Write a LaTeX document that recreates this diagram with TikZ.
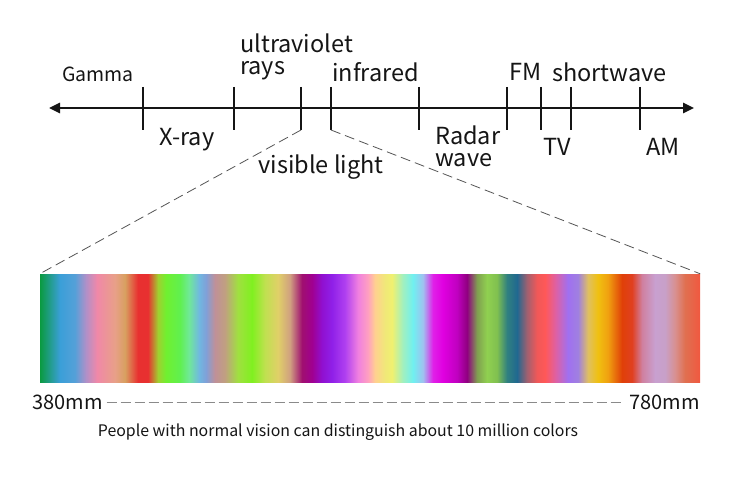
\documentclass[tikz,border=0pt]{standalone}
\usepackage{fontspec}
\setmainfont{Noto Sans CJK SC}
\usetikzlibrary{arrows.meta}
\definecolor{Ink}{HTML}{151515}
\definecolor{Guide}{HTML}{555555}
\definecolor{Scale}{HTML}{8A8A8A}
% spectrum stops, named by their x position
\definecolor{sp041}{HTML}{0A9A40}
\definecolor{sp060}{HTML}{3A9FD8}
\definecolor{sp075}{HTML}{55A0D8}
\definecolor{sp086}{HTML}{B090C8}
\definecolor{sp097}{HTML}{F088A8}
\definecolor{sp115}{HTML}{E8A088}
\definecolor{sp125}{HTML}{D8A060}
\definecolor{sp138}{HTML}{E83030}
\definecolor{sp148}{HTML}{E83030}
\definecolor{sp158}{HTML}{A0D030}
\definecolor{sp166}{HTML}{70F030}
\definecolor{sp180}{HTML}{60F050}
\definecolor{sp189}{HTML}{70E898}
\definecolor{sp199}{HTML}{70B8E0}
\definecolor{sp206}{HTML}{80A0D8}
\definecolor{sp215}{HTML}{C09098}
\definecolor{sp225}{HTML}{C0A080}
\definecolor{sp238}{HTML}{A0E040}
\definecolor{sp252}{HTML}{80F020}
\definecolor{sp265}{HTML}{C0E050}
\definecolor{sp278}{HTML}{E0D068}
\definecolor{sp290}{HTML}{D0A080}
\definecolor{sp302}{HTML}{A01070}
\definecolor{sp312}{HTML}{A00090}
\definecolor{sp322}{HTML}{9010D0}
\definecolor{sp332}{HTML}{9020E8}
\definecolor{sp345}{HTML}{B040F0}
\definecolor{sp358}{HTML}{F080E0}
\definecolor{sp368}{HTML}{FFA0C0}
\definecolor{sp375}{HTML}{FFD090}
\definecolor{sp385}{HTML}{F0E878}
\definecolor{sp392}{HTML}{F0F070}
\definecolor{sp403}{HTML}{A0F0C0}
\definecolor{sp413}{HTML}{70F0F0}
\definecolor{sp423}{HTML}{A0C0F0}
\definecolor{sp433}{HTML}{E020E8}
\definecolor{sp443}{HTML}{E000E0}
\definecolor{sp457}{HTML}{C000C0}
\definecolor{sp467}{HTML}{900080}
\definecolor{sp477}{HTML}{80A050}
\definecolor{sp487}{HTML}{90D050}
\definecolor{sp497}{HTML}{80C050}
\definecolor{sp507}{HTML}{308080}
\definecolor{sp517}{HTML}{206890}
\definecolor{sp527}{HTML}{A06070}
\definecolor{sp537}{HTML}{F05858}
\definecolor{sp545}{HTML}{FF5858}
\definecolor{sp555}{HTML}{E060A0}
\definecolor{sp568}{HTML}{A070F0}
\definecolor{sp578}{HTML}{A080E0}
\definecolor{sp588}{HTML}{E0C060}
\definecolor{sp598}{HTML}{F0C010}
\definecolor{sp608}{HTML}{F0A010}
\definecolor{sp622}{HTML}{E04008}
\definecolor{sp632}{HTML}{E04020}
\definecolor{sp642}{HTML}{D080A0}
\definecolor{sp655}{HTML}{C8A0D0}
\definecolor{sp665}{HTML}{C8A0C8}
\definecolor{sp675}{HTML}{D89090}
\definecolor{sp685}{HTML}{E07050}
\definecolor{sp700}{HTML}{F05840}
% the band covers 25bp..75bp of the shading
\pgfdeclarehorizontalshading{spectrum}{100bp}{
  color(0bp)=(sp041); color(25bp)=(sp041); color(26.52bp)=(sp060);
  color(27.65bp)=(sp075); color(28.48bp)=(sp086); color(29.32bp)=(sp097);
  color(30.68bp)=(sp115); color(31.44bp)=(sp125); color(32.42bp)=(sp138);
  color(33.18bp)=(sp148); color(33.94bp)=(sp158); color(34.55bp)=(sp166);
  color(35.61bp)=(sp180); color(36.29bp)=(sp189); color(37.05bp)=(sp199);
  color(37.58bp)=(sp206); color(38.26bp)=(sp215); color(39.02bp)=(sp225);
  color(40.00bp)=(sp238); color(41.06bp)=(sp252); color(42.05bp)=(sp265);
  color(43.03bp)=(sp278); color(43.94bp)=(sp290); color(44.85bp)=(sp302);
  color(45.61bp)=(sp312); color(46.36bp)=(sp322); color(47.12bp)=(sp332);
  color(48.11bp)=(sp345); color(49.09bp)=(sp358); color(49.85bp)=(sp368);
  color(50.38bp)=(sp375); color(51.14bp)=(sp385); color(51.67bp)=(sp392);
  color(52.50bp)=(sp403); color(53.26bp)=(sp413); color(54.02bp)=(sp423);
  color(54.77bp)=(sp433); color(55.53bp)=(sp443); color(56.59bp)=(sp457);
  color(57.35bp)=(sp467); color(58.11bp)=(sp477); color(58.86bp)=(sp487);
  color(59.62bp)=(sp497); color(60.38bp)=(sp507); color(61.14bp)=(sp517);
  color(61.89bp)=(sp527); color(62.65bp)=(sp537); color(63.26bp)=(sp545);
  color(64.02bp)=(sp555); color(65.00bp)=(sp568); color(65.76bp)=(sp578);
  color(66.52bp)=(sp588); color(67.27bp)=(sp598); color(68.03bp)=(sp608);
  color(69.09bp)=(sp622); color(69.85bp)=(sp632); color(70.61bp)=(sp642);
  color(71.59bp)=(sp655); color(72.35bp)=(sp665); color(73.11bp)=(sp675);
  color(73.86bp)=(sp685); color(75bp)=(sp700); color(100bp)=(sp700)}

\begin{document}
\begin{tikzpicture}[
    x=1pt, y=-1pt,
    axisline/.style={{Triangle[length=11pt,width=10pt]}-{Triangle[length=11pt,width=10pt]},
        line width=2.6pt, draw=Ink},
    tickmark/.style={line width=2.6pt, draw=Ink},
    wave/.style={font=\fontsize{23.5}{22}\selectfont, text=Ink, inner sep=0pt},
    smallwave/.style={font=\fontsize{19.5}{20}\selectfont, text=Ink, inner sep=0pt},
    rangelabel/.style={font=\fontsize{20}{22}\selectfont, text=Ink, inner sep=0pt},
    zoomline/.style={dash pattern=on 10pt off 5pt, line width=0.8pt, draw=Guide},
    scaleline/.style={dash pattern=on 10pt off 4pt, line width=1pt, draw=Scale},
    band/.style={shading=spectrum, minimum width=660pt, minimum height=108pt,
        inner sep=0pt, draw=none}
]
\useasboundingbox[fill=white] (0,0) rectangle (750,487);

% Axis with tick marks
\coordinate (lo) at (49,108);
\coordinate (hi) at (694,108);
\draw[axisline] (lo) -- (hi);
\foreach \tx [count=\i] in {143,234,301,331,419,507,541,571,640}
    \draw[tickmark] (\tx,87) -- (\tx,130) coordinate (t\i);

% Labels above the axis
\node[smallwave] (gamma) at (98,74) {Gamma};
\node[wave, anchor=west, align=left] (uv) at (240,57) {ultraviolet\\rays};
\node[wave, anchor=west] (ir) at (332,72) {infrared};
\node[wave, anchor=west] (fm) at (509,72) {FM};
\node[wave, anchor=west] (sw) at (552,72) {shortwave};

% Labels below the axis
\node[wave] (xray) at (187,140) {X-ray};
\node[wave] (vis) at (321,167) {visible light};
\node[wave, anchor=west, align=left] (radar) at (435,146) {Radar\\wave};
\node[wave] (tv) at (557,147) {TV};
\node[wave] (am) at (663,147) {AM};

% Visible band blown up
\node[band] (spec) at (370,328) {};
\draw[zoomline] (t3) -- (spec.north west);
\draw[zoomline] (t4) -- (spec.north east);

% Wavelength range
\node[rangelabel, anchor=west] (nm380) at (32,402) {380mm};
\node[rangelabel, anchor=east] (nm780) at (700,402) {780mm};
\draw[scaleline] ([xshift=4pt]nm380.east) -- ([xshift=-6pt]nm780.west);
\node[font=\fontsize{15.9}{18}\selectfont, text=Ink, inner sep=0pt] (note) at (338,432)
    {People with normal vision can distinguish about 10 million colors};

\end{tikzpicture}
\end{document}
